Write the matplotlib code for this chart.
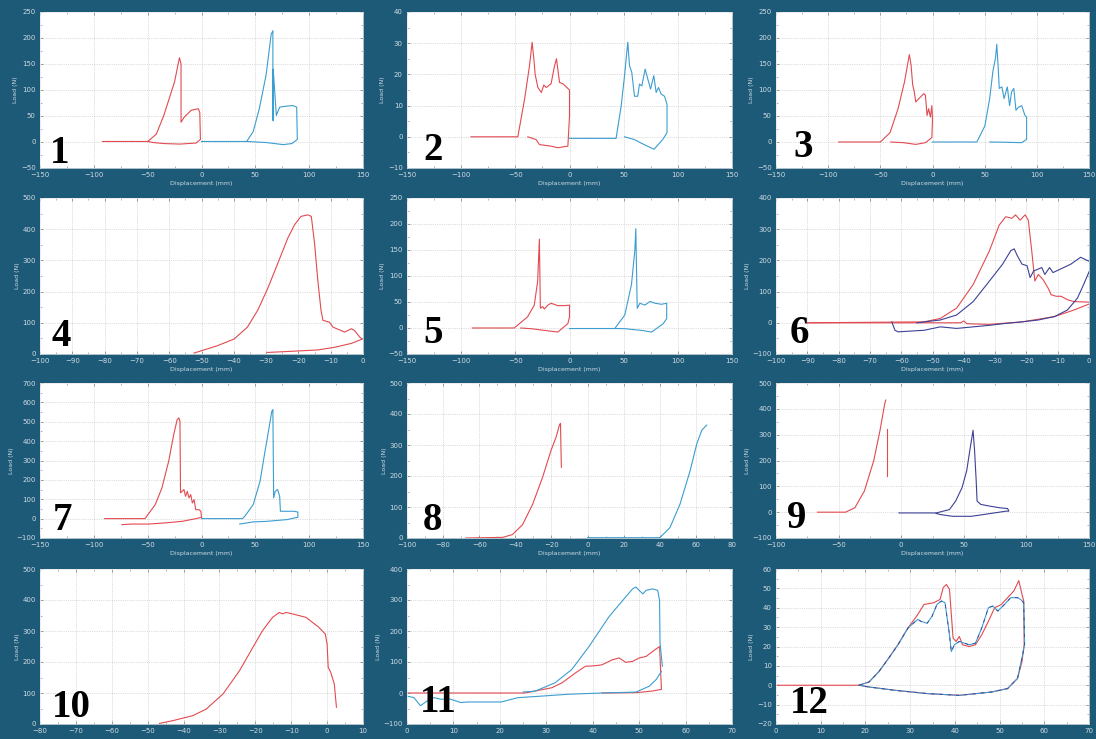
import numpy as np
import matplotlib.pyplot as plt
from matplotlib.ticker import AutoMinorLocator

BG = '#1d5a78'
RED = '#e24a50'
BLUE = '#3b9dd0'
NAVY = '#3c4196'
TICK_TXT = '#cfdbe3'

# ---- panel 1 ----
p1_red_x = [-92, -50, -42, -35, -25, -20.5, -19, -19, -16, -9.5, -3, -1.6, -1, -5, -20, -35, -45, -50]
p1_red_y = [1, 1, 15, 51, 116, 162, 150, 38, 48, 61, 64, 57, 5, -2, -4, -3, -1, 1]
p1_blue_x = [0, 42, 48, 53.7, 60, 64.7, 66.3, 66.3, 66.6, 66.6, 69.5, 72.6, 79, 85, 88.4, 89, 84, 75.8, 60, 42]
p1_blue_y = [1, 1, 20, 64, 129, 207, 214, 41, 41, 140, 51, 67, 69, 70, 67, 5, -3, -5, -1, 1]

# ---- panel 2 ----
p2_red_x = [-91, -47.7, -41.5, -36.9, -34.5, -32.9, -31.7, -29.2, -26, -23.7, -21.5, -17, -13.8, -12, -10.8,
            -9.2, -6, -3, 0, 0, -1.5, -10.8, -17, -27.7, -30.8, -38.5]
p2_red_y = [0, 0, 12, 22.8, 30.3, 25, 20, 15.8, 14.2, 16.6, 15.8, 17, 22.8, 25, 21.7,
            17.4, 17, 16, 15, 6.7, -3, -3.5, -3, -2.5, -0.9, 0]
p2_blue_x = [0, 43, 47.7, 50.8, 53.8, 55.4, 57.5, 60, 63, 64.6, 66.8, 69.8, 72.3, 74.8, 77.8, 80, 82.2,
             84.6, 87.7, 90, 90, 86, 78, 72, 66, 60, 50.8]
p2_blue_y = [-0.5, -0.5, 9.9, 19.6, 30.3, 22.8, 20.6, 13, 13, 16.9, 16.3, 21.7, 18.5, 15.3, 19.6, 14.2, 15.8,
             13.7, 13, 10.4, 1.3, -0.9, -4, -3, -2, -0.9, 0]

# ---- panel 3 ----
p3_red_x = [-90, -50, -40.7, -33, -26.8, -22.2, -20.6, -19, -17.5, -16, -13, -8.3, -6.8, -5.2, -3.7, -2,
            -0.6, 0, -0.6, -6.8, -16, -28, -40]
p3_red_y = [0, 0, 18, 64, 116, 168, 149, 110, 97, 77, 83.5, 93, 90, 51, 64, 48,
            70, 44, 8.5, -1.3, -4.6, -1.3, 0]
p3_blue_x = [0, 42.5, 50.2, 54.8, 57.9, 60.4, 61.6, 62.8, 64, 66.5, 68.6, 71.7, 73.9, 75.8, 77.9, 80, 82.5,
             85.5, 88.6, 90.2, 90.2, 85.5, 70, 55]
p3_blue_y = [0, 0, 31, 83.5, 136, 162, 188, 149, 103, 106, 83.5, 106, 70, 96.6, 103, 61, 67,
             70, 51, 48, 5, -1.3, -0.5, 0]

# ---- panel 4 ----
p4_red_x = [-52.3, -45, -39.9, -35.8, -32.6, -29.5, -26.4, -23.3, -21.2, -19.2, -17.1, -16, -15, -14, -13,
            -12.4, -10.4, -9.3, -6.7, -5.7, -3.6, -2.6, -1, -0.2, -3.6, -8.8, -14, -24.4, -29.5]
p4_red_y = [3, 26.9, 48, 86, 140, 210, 290, 371, 414, 441, 446, 441, 355, 237, 140,
            108, 102, 86, 75, 70, 81, 75, 54, 48, 34, 21.5, 13, 7.5, 5]

# ---- panel 5 ----
p5_red_x = [-89.7, -51, -38.7, -32.5, -29.4, -27.8, -26.9, -24.7, -23.2, -20, -17, -10.8, -4.6, 0, 0, -1.5,
            -10.8, -23, -35.6, -45]
p5_red_y = [0, 0, 21.5, 44, 90, 171, 38, 41, 36.5, 44, 47.6, 43, 43, 44, 21.5, 8.5,
            -7.8, -4.6, -1.3, 0]
p5_blue_x = [0, 41.8, 51, 57.2, 60.3, 61.2, 62.5, 65, 69.6, 74.2, 78.9, 85, 89.7, 89.7, 86.6, 75.8, 66.5,
             51, 42]
p5_blue_y = [-1, -1, 24.8, 83.5, 149, 191, 38, 47.6, 44, 51, 47.6, 45.6, 47.6, 18, 8.5, -7.8, -4.6,
             -1.3, -1]

# ---- panel 6 ----
p6_red_x = [-90, -52.7, -47.5, -42.3, -37, -31.8, -28.7, -26.6, -24.6, -23.5, -22, -20.4, -19.4, -18.3,
            -17.3, -16.2, -14.7, -13.1, -12.1, -10.5, -8.9, -6.9, -4.8, 0.5]
p6_red_y = [0, 3, 14, 47, 123, 231, 313, 340, 335, 346, 329, 346, 329, 231,
            134, 155, 139, 112, 90, 85, 85, 74, 68, 66]
p6_red_ret_x = [0.5, -4.8, -11, -21.4, -31.8, -39, -40, -41, -90]
p6_red_ret_y = [62, 41, 20, 3, -5, -3, 6, 0, 0]
p6_blue_lo_x = [-63, -62, -61, -52.7, -47.5, -42.3, -37, -31.8, -26.6, -21.4, -16.2, -11, -6.9, -3.7,
                -1.7, 0.5]
p6_blue_lo_y = [3, -24, -29, -24, -13, -18, -13, -8, -2, 3, 9, 20, 41, 79, 123, 175]
p6_blue_hi_x = [-55, -47.5, -42.3, -37, -31.8, -27.6, -25, -23.9, -22.9, -21.4, -19.8, -18.8, -17.7,
                -15.1, -14.1, -12.6, -11.5, -5.8, -2.7, 0.5]
p6_blue_hi_y = [0, 9, 25, 68, 134, 188, 231, 237, 215, 188, 183, 145, 166,
                177, 155, 177, 161, 188, 210, 195]

# ---- panel 7 ----
p7_red_x = [-90, -52.5, -43, -36.8, -30.5, -25.8, -22.6, -21, -20, -19.5, -16.3, -14.8, -13.2, -11.6, -10,
            -8.5, -6.9, -5.3, -2.2, -0.6, 0, -5, -18, -33.6, -49, -65, -74]
p7_red_y = [0, 0, 72, 158, 296, 434, 511, 520, 502, 133, 150, 115, 141, 107, 124,
            81, 98, 46, 46, 38, 7, 0, -14, -22, -28, -28, -31]
p7_blue_x = [0, 38, 40.2, 48, 54.4, 59, 62.2, 65.3, 66.3, 67, 68.5, 70.7, 72.6, 73.3, 79.5, 85.8, 89.5,
             89.5, 79.5, 60.6, 48, 35.5]
p7_blue_y = [0, 0, 12, 72, 193, 348, 451, 554, 563, 107, 141, 150, 115, 38, 38, 38, 34,
             7, -5, -14, -17, -28]

# ---- panel 8 ----
p8_red_x = [-67.5, -47, -41.6, -36, -30.4, -24.9, -20.2, -17.4, -15.6, -15, -14.7, -14.5]
p8_red_y = [0, 2, 11, 43, 109, 196, 283, 326, 364, 370, 283, 228]
p8_blue_x = [0, 40, 45.6, 51.2, 56.8, 60.5, 63.3, 65.1, 66]
p8_blue_y = [1, 1, 33, 109, 217, 304, 348, 359, 364]

# ---- panel 9 ----
p9_red_x = [-67, -44.5, -37, -29.4, -21.9, -16.9, -13.1, -12.3]
p9_red_y = [0, 0, 17, 82, 200, 317, 421, 434]
p9_red_tail_x = [-11.5, -11.5]
p9_red_tail_y = [323, 141]
p9_blue_x = [-1.8, 28, 38.5, 43.5, 48.6, 52.3, 54.8, 57.4, 58.6, 59.9, 60.6, 63.6, 71.2, 78.7, 85, 86,
             84, 66, 56, 41, 31, 28]
p9_blue_y = [-3, -3, 10, 43, 95, 160, 239, 317, 239, 121, 43, 30, 23, 17, 14, 4,
             4, -9, -16, -16, -9, -5]

# ---- panel 10 ----
p10_red_x = [-46.7, -43, -37.4, -33.7, -29, -24.4, -20.7, -18, -15.2, -13.3, -12.4, -11.5, -9.6, -5.9,
             -2.3, -0.5, 0, 0.3, 1, 2, 2.6]
p10_red_y = [2, 10.8, 27, 48, 97, 172, 247, 301, 344, 360, 355, 360, 355, 344,
             312, 290, 258, 183, 167, 129, 54]

# ---- panel 11 ----
p11_red_x = [0, 25.4, 27.6, 31.2, 33.4, 36.3, 38.4, 40.6, 42, 44.2, 45.7, 47.1, 48.6, 50, 51.5, 52.9,
             54.4, 54.8, 52.9, 49.3, 42]
p11_red_y = [0, 0, 6.4, 17, 33, 65, 86, 88, 91, 107, 113, 99, 102, 113, 118, 134,
             150, 12, 6.4, 1, 0]
p11_blue_lo_x = [0, 1.5, 2.9, 4.3, 5.8, 7.3, 9.4, 11.6, 13, 20.3, 23.9, 29, 34.8, 42, 49.3, 52.2,
                 53.7, 54.8]
p11_blue_lo_y = [-10, -15, -41, -26, -15, -20, -20, -31, -29, -29, -15, -10, -4, 0, 3, 22,
                 44, 70]
p11_blue_hi_x = [25, 27.6, 31.9, 35.5, 39.2, 43.5, 47.1, 48.6, 49.3, 50, 50.8, 51.5, 52.9, 54,
                 54.4, 54.5, 55]
p11_blue_hi_y = [3, 6, 33, 76, 150, 246, 310, 336, 342, 331, 320, 331, 336, 331,
                 299, 161, 86]

# ---- panel 12 ----
p12_red_x = [0, 18.6, 20.8, 23, 25.2, 27.3, 29.5, 31.7, 33.1, 35.3, 36.7, 37.4, 38.1, 38.8, 39.6, 40.3,
             41, 41.7, 43.2, 44.6, 46, 47.5, 48.9, 50.4, 51.8, 53.2, 54.3, 55, 55.4, 55.5, 55, 54,
             51.8, 48.2, 41, 33.8, 26.6, 20.8, 18.6]
p12_red_y = [0, 0, 1.7, 7, 14, 21, 29.5, 36.5, 41.7, 42.6, 44.3, 50.4, 52, 49.5, 24.3, 22.6,
             25.2, 20.9, 20, 20.9, 26, 33, 40, 41.7, 45.2, 48.7, 54, 47, 43.5, 21, 12, 3.5,
             -1.7, -3.5, -5.2, -4.3, -2.6, -0.9, 0]
p12_blue_x = [18.6, 20.8, 23, 25.2, 27.3, 29.5, 31.7, 32.4, 33.8, 34.9, 36, 37, 37.8, 38.8, 39.2, 39.9,
              41, 43.2, 44.6, 46, 47.5, 48.5, 49.6, 51.1, 52.5, 54, 54.7, 55.4, 55.6, 55, 54,
              51.8, 48.2, 41, 33.8, 26.6, 20.8, 18.6]
p12_blue_y = [0, 1.7, 7, 14, 21, 29.5, 34, 33, 32, 35.6, 41.7, 43.5, 42.6, 26, 17.4, 20.9,
              22.6, 20.9, 21.7, 29.5, 40, 40.9, 38.3, 41.7, 45.2, 45.2, 44.3, 42.6, 21, 14, 3.5,
              -1.7, -3.5, -5.2, -4.3, -2.6, -0.9, 0]

# axes boxes in pixels: (left, right) and (top, bottom)
COLS = [(40, 363), (407, 732), (776, 1089)]
ROWS = [(12, 168), (198, 354), (383, 538), (569, 724)]
W, H = 1096, 739

fig = plt.figure(figsize=(W / 100, H / 100), dpi=100)
fig.patch.set_facecolor(BG)


def make_ax(row, col, xlim, ylim, xstep, ystep, num, num_pos, xlabel=True):
    l, r = COLS[col]
    t, b = ROWS[row]
    ax = fig.add_axes([l / W, 1 - b / H, (r - l) / W, (b - t) / H])
    ax.set_facecolor('white')
    ax.set_xlim(*xlim)
    ax.set_ylim(*ylim)
    ax.set_xticks(np.arange(xlim[0], xlim[1] + 0.01, xstep))
    ax.set_yticks(np.arange(ylim[0], ylim[1] + 0.01, ystep))
    ax.xaxis.set_minor_locator(AutoMinorLocator(2))
    ax.yaxis.set_minor_locator(AutoMinorLocator(2))
    ax.tick_params(which='both', direction='in', top=True, right=True, color='#777777',
                   labelsize=5, labelcolor=TICK_TXT, pad=3)
    ax.tick_params(which='major', length=2.5, width=0.5)
    ax.tick_params(which='minor', length=1.5, width=0.4)
    ax.grid(True, which='major', linestyle=':', color='#bcbcbc', linewidth=0.5)
    for s in ax.spines.values():
        s.set_color('#eeeeee')
        s.set_linewidth(0.5)
    ax.set_ylabel('Load (N)', fontsize=4.5, color=TICK_TXT, labelpad=2)
    if xlabel:
        ax.set_xlabel('Displacement (mm)', fontsize=4.5, color=TICK_TXT, labelpad=2)
    ax.text(num_pos[0], num_pos[1], str(num), transform=ax.transAxes, ha='left', va='baseline',
            fontsize=28, fontweight='bold', family=['Liberation Serif', 'DejaVu Serif'],
            color='black', zorder=10)
    return ax


lw = 0.8

ax = make_ax(0, 0, (-150, 150), (-50, 250), 50, 50, 1, (0.03, 0.03))
ax.plot(p1_red_x, p1_red_y, color=RED, lw=lw)
ax.plot(p1_blue_x, p1_blue_y, color=BLUE, lw=lw)

ax = make_ax(0, 1, (-150, 150), (-10, 40), 50, 10, 2, (0.05, 0.05))
ax.plot(p2_red_x, p2_red_y, color=RED, lw=lw)
ax.plot(p2_blue_x, p2_blue_y, color=BLUE, lw=lw)

ax = make_ax(0, 2, (-150, 150), (-50, 250), 50, 50, 3, (0.056, 0.07))
ax.plot(p3_red_x, p3_red_y, color=RED, lw=lw)
ax.plot(p3_blue_x, p3_blue_y, color=BLUE, lw=lw)

ax = make_ax(1, 0, (-100, 0), (0, 500), 10, 100, 4, (0.037, 0.05))
ax.plot(p4_red_x, p4_red_y, color=RED, lw=lw)

ax = make_ax(1, 1, (-150, 150), (-50, 250), 50, 50, 5, (0.05, 0.07))
ax.plot(p5_red_x, p5_red_y, color=RED, lw=lw)
ax.plot(p5_blue_x, p5_blue_y, color=BLUE, lw=lw)

ax = make_ax(1, 2, (-100, 0), (-100, 400), 10, 100, 6, (0.045, 0.07))
ax.plot(p6_red_x, p6_red_y, color=RED, lw=lw)
ax.plot(p6_red_ret_x, p6_red_ret_y, color=RED, lw=lw)
ax.plot(p6_blue_lo_x, p6_blue_lo_y, color=NAVY, lw=lw)
ax.plot(p6_blue_hi_x, p6_blue_hi_y, color=NAVY, lw=lw)

ax = make_ax(2, 0, (-150, 150), (-100, 700), 50, 100, 7, (0.04, 0.05))
ax.plot(p7_red_x, p7_red_y, color=RED, lw=lw)
ax.plot(p7_blue_x, p7_blue_y, color=BLUE, lw=lw)

ax = make_ax(2, 1, (-100, 80), (0, 500), 20, 100, 8, (0.05, 0.05))
ax.plot(p8_red_x, p8_red_y, color=RED, lw=lw)
ax.plot(p8_blue_x, p8_blue_y, color=BLUE, lw=lw)

ax = make_ax(2, 2, (-100, 150), (-100, 500), 50, 100, 9, (0.035, 0.065))
ax.plot(p9_red_x, p9_red_y, color=RED, lw=lw)
ax.plot(p9_red_tail_x, p9_red_tail_y, color=RED, lw=lw)
ax.plot(p9_blue_x, p9_blue_y, color=NAVY, lw=lw)

ax = make_ax(3, 0, (-80, 10), (0, 500), 10, 100, 10, (0.037, 0.045), xlabel=False)
ax.plot(p10_red_x, p10_red_y, color=RED, lw=lw)

ax = make_ax(3, 1, (0, 70), (-100, 400), 10, 100, 11, (0.04, 0.08), xlabel=False)
ax.plot(p11_red_x, p11_red_y, color=RED, lw=lw)
ax.plot(p11_blue_lo_x, p11_blue_lo_y, color=BLUE, lw=lw)
ax.plot(p11_blue_hi_x, p11_blue_hi_y, color=BLUE, lw=lw)

ax = make_ax(3, 2, (0, 70), (-20, 60), 10, 10, 12, (0.043, 0.07), xlabel=False)
ax.plot(p12_red_x, p12_red_y, color=RED, lw=lw)
ax.plot(p12_blue_x, p12_blue_y, color=BLUE, lw=lw)
ax.plot(p12_blue_x, p12_blue_y, color=NAVY, lw=0.6, linestyle=(0, (4, 6)))

fig.savefig('out.png', dpi=100, facecolor=BG)
